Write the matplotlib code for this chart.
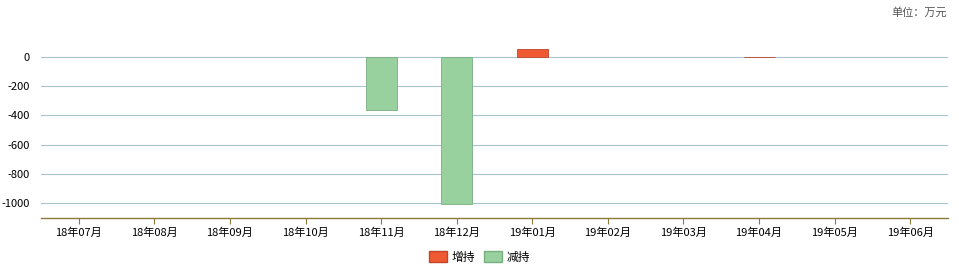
import numpy as np
import matplotlib.pyplot as plt
from matplotlib.patches import Patch

plt.rcParams['font.family'] = ['Noto Sans CJK SC', 'DejaVu Sans']

# Data
months = ['18年07月', '18年08月', '18年09月', '18年10月', '18年11月', '18年12月',
          '19年01月', '19年02月', '19年03月', '19年04月', '19年05月', '19年06月']
increase = [0, 0, 0, 0, 0, 0, 55, 0, 0, 3, 0, 0]
decrease = [0, 0, 0, 0, -365, -1005, 0, 0, 0, 0, 0, 0]
yticks = [0, -200, -400, -600, -800, -1000]

red = '#F05A32'
green = '#98D09E'

fig = plt.figure(figsize=(9.59, 2.78), dpi=100)
ax = fig.add_axes([41 / 959, 1 - 218 / 278, 907 / 959, 178 / 278])

x = np.arange(len(months))
inc = np.array(increase, dtype=float)
dec = np.array(decrease, dtype=float)
ax.bar(x[inc != 0], inc[inc != 0], width=0.41, color=red, edgecolor='#C0452A',
       linewidth=0.6, zorder=3)
ax.bar(x[dec != 0], dec[dec != 0], width=0.41, color=green, edgecolor='#79AE80',
       linewidth=0.6, zorder=3)

ax.set_xlim(-0.5, len(months) - 0.5)
ax.set_ylim(-1103, 116)
ax.set_yticks(yticks)
ax.set_yticklabels([str(v) for v in yticks], fontsize=8)
ax.set_xticks(x)
ax.set_xticklabels(months, fontsize=8)
ax.tick_params(axis='y', length=0, pad=8)
ax.tick_params(axis='x', length=4, color='#8B7B3A', width=0.8, pad=3)

for v in yticks:
    ax.axhline(v, color='#A9C3CF', linewidth=0.8, zorder=1)

for s in ['top', 'right', 'left']:
    ax.spines[s].set_visible(False)
ax.spines['bottom'].set_color('#8B7B3A')
ax.spines['bottom'].set_linewidth(1.0)

fig.text(0.988, 0.955, '单位：万元', ha='right', va='center', fontsize=8, color='#555555')

handles = [Patch(facecolor=red, edgecolor='#C0452A', label='增持'),
           Patch(facecolor=green, edgecolor='#79AE80', label='减持')]
fig.legend(handles=handles, loc='center', bbox_to_anchor=(0.5, 0.075), ncol=2,
           frameon=False, fontsize=8.5, handlelength=1.5, handleheight=1.1,
           columnspacing=0.8, handletextpad=0.4)

fig.savefig('out.png', dpi=100)
